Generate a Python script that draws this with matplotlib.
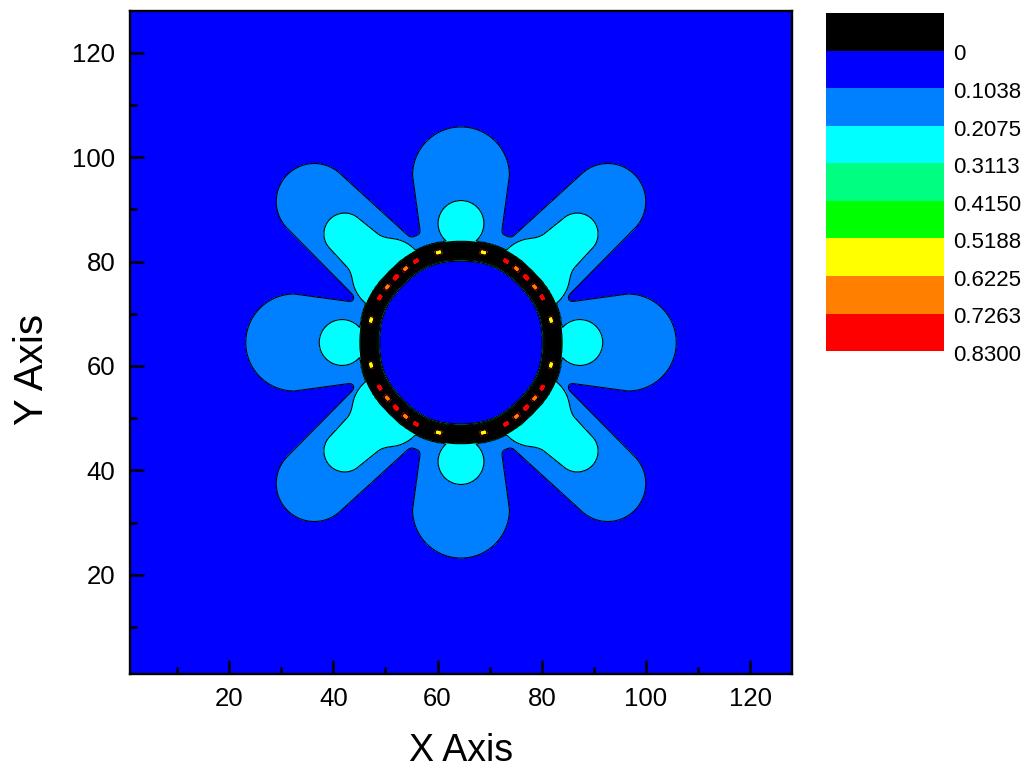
import numpy as np
import matplotlib.pyplot as plt
from matplotlib.ticker import MultipleLocator

plt.rcParams['font.family'] = ['Liberation Sans', 'DejaVu Sans']

# contour levels and colours
levels = [0, 0.1038, 0.2075, 0.3113, 0.4150, 0.5188, 0.6225, 0.7263, 0.8300]
level_labels = ['0', '0.1038', '0.2075', '0.3113', '0.4150', '0.5188', '0.6225', '0.7263', '0.8300']
fill_colors = ['#0000FF', '#0080FF', '#00FFFF', '#00FF80', '#00FF00',
               '#FFFF00', '#FF8000', '#FF0000']
over_color = '#000000'

# shape of the field (grid units)
centre = (64.5, 64.5)
ring_in, ring_out, ring_peak = 16.3, 19.2, 1.08
strip_radius = 22.2

# petals / arms / knobs as tapered capsules: angle, u0, u1, w0, w1, band
cap_angle = [0, 90, 180, 270,              # petals on the axes
             43.8, 136.2, 223.8, 316.2,    # diagonal petals
             43, 137, 223, 317,            # cyan arms
             43, 137, 223, 317,            # arm bases
             0, 90, 180, 270]              # cyan knobs
cap_u0 = [19.5] * 4 + [20.0] * 4 + [20.0] * 4 + [19.0] * 4 + [22.8] * 4
cap_u1 = [32.0] * 4 + [39.0] * 4 + [30.5] * 4 + [19.0] * 4 + [22.8] * 4
cap_w0 = [7.6] * 4 + [7.8] * 4 + [4.8] * 4 + [7.0] * 4 + [4.4] * 4
cap_w1 = [9.3] * 4 + [7.3] * 4 + [4.0] * 4 + [7.0] * 4 + [4.4] * 4
cap_band = [1] * 8 + [2] * 12   # 1 = light blue, 2 = cyan

# coloured specks inside the ring: angle (deg), depth
speck_angle = [14, 76, 104, 166, 194, 256, 284, 346,
               29, 37, 45, 53, 61, 119, 127, 135, 143, 151,
               209, 217, 225, 233, 241, 299, 307, 315, 323, 331]
speck_depth = [0.5] * 8 + [0.28, 0.38, 0.3, 0.38, 0.28] * 4

x = np.linspace(1, 128, 512)
y = np.linspace(1, 128, 512)
X, Y = np.meshgrid(x, y)
dx, dy = X - centre[0], Y - centre[1]
r = np.hypot(dx, dy)
th = np.degrees(np.arctan2(dy, dx)) % 360


def sig(z):
    return 1 / (1 + np.exp(-z))


def capsule(ang, u0, u1, w0, w1):
    a = np.radians(ang)
    u = dx * np.cos(a) + dy * np.sin(a)
    v = -dx * np.sin(a) + dy * np.cos(a)
    t = np.clip((u - u0) / (u1 - u0), 0, 1) if u1 > u0 else 0.0
    d = np.hypot(u - (u0 + t * (u1 - u0)), v)
    return w0 + (w1 - w0) * t - d


band_top = {1: 0.15, 2: 0.25}
k = 2.5
p = 4


def band_value(s, band):
    H = band_top[band]
    L = levels[band]
    return H * sig(k * s + np.log(L / (H - L)))


groups = {1: [band_value(strip_radius - r, 1)], 2: []}
for i in range(len(cap_angle)):
    s = capsule(cap_angle[i], cap_u0[i], cap_u1[i], cap_w0[i], cap_w1[i])
    groups[cap_band[i]].append(band_value(s, cap_band[i]))
light = np.sum([c ** p for c in groups[1]], axis=0) ** (1 / p)
cyan = np.sum([c ** p for c in groups[2]], axis=0) ** (1 / p)
outer = np.maximum(light, cyan) * sig((r - 17.5) / 0.3)

r_eff = r * (1 + 0.006 * np.cos(np.radians(8 * th)))
ring = ring_peak * sig((r_eff - ring_in) / 0.28) * sig((ring_out - r_eff) / 0.28)
dip = np.zeros_like(r)
for a, dpt in zip(speck_angle, speck_depth):
    diff = (th - a + 180) % 360 - 180
    dip = np.maximum(dip, dpt * np.exp(-(diff / 3.6) ** 4))
ring = ring - dip * np.exp(-((r_eff - 17.75) / 0.75) ** 4)

field = np.maximum(np.maximum(ring, outer), 0.03)

fig = plt.figure(figsize=(10.3, 7.76), dpi=100)
ax = fig.add_axes([130 / 1030, 102 / 776, 662 / 1030, 663 / 776])

ax.contourf(X, Y, field, levels=levels + [ring_peak + 1],
            colors=fill_colors + [over_color])
ax.contour(X, Y, field, levels=levels, colors='k', linewidths=0.8)

ax.set_xlim(1, 128)
ax.set_ylim(1, 128)
ax.xaxis.set_major_locator(MultipleLocator(20))
ax.yaxis.set_major_locator(MultipleLocator(20))
ax.xaxis.set_minor_locator(MultipleLocator(10))
ax.yaxis.set_minor_locator(MultipleLocator(10))
ax.tick_params(which='both', direction='in', top=False, right=False, width=1.8)
ax.tick_params(which='major', length=10, labelsize=18.5)
ax.tick_params(which='minor', length=5)
ax.tick_params(axis='x', pad=9)
ax.tick_params(axis='y', pad=10.5)
for s in ax.spines.values():
    s.set_linewidth(1.7)

ax.set_xlabel('X Axis', fontsize=27)
ax.set_ylabel('Y Axis', fontsize=29)
ax.xaxis.set_label_coords(0.5, -0.089)
ax.yaxis.set_label_coords(-0.1186, 0.459)

# colour scale
cax = fig.add_axes([826 / 1030, 423 / 776, 118 / 1030, 340 / 776])
bar_colors = [over_color] + fill_colors
pos = np.arange(len(bar_colors))
cax.barh(pos, 1, height=1, color=bar_colors)
cax.set_ylim(len(bar_colors) - 0.5, -0.5)
cax.set_xlim(0, 1)
cax.set_xticks([])
cax.set_yticks(pos + 0.55)
cax.set_yticklabels(level_labels)
cax.yaxis.tick_right()
cax.tick_params(length=0, pad=6.5, labelsize=16)
for s in cax.spines.values():
    s.set_visible(False)

fig.savefig('out.png', dpi=100)
